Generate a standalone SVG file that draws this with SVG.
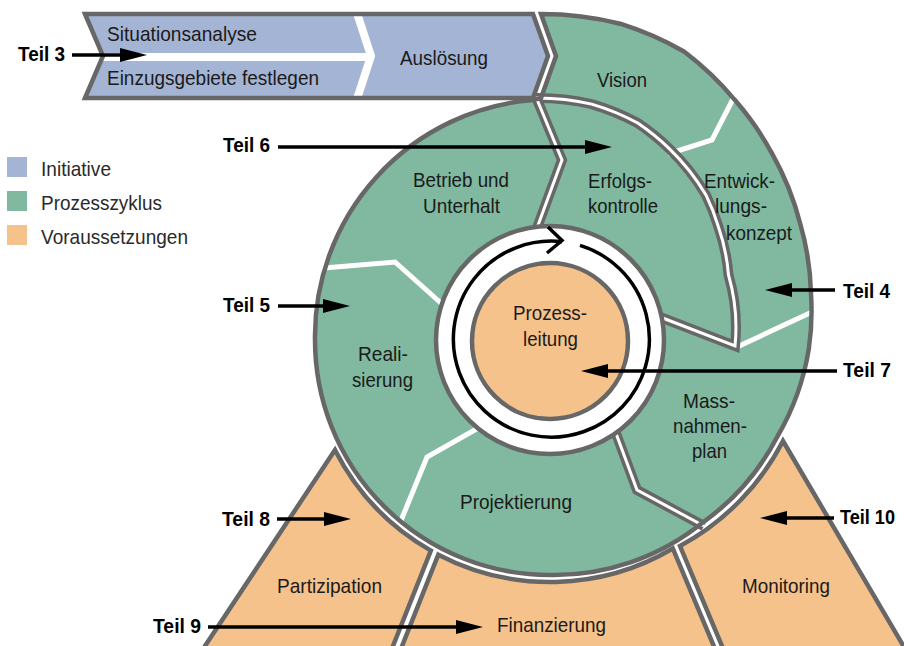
<svg xmlns="http://www.w3.org/2000/svg" width="904" height="646" viewBox="0 0 904 646">
<defs>
<style>
.lbl{font-family:"Liberation Sans Narrow","Liberation Sans",Arial,sans-serif;font-size:21px;fill:#1a1a1a}
.leg{font-family:"Liberation Sans Narrow","Liberation Sans",Arial,sans-serif;font-size:21px;fill:#2a2a2a}
.teil{font-family:"Liberation Sans Narrow","Liberation Sans",Arial,sans-serif;font-size:21px;font-weight:bold;fill:#000}
.mid{text-anchor:middle}
.edge{stroke:#676767;stroke-width:4.5;stroke-linejoin:miter;stroke-miterlimit:10}
.wsep{fill:none;stroke:#fff;stroke-width:5;stroke-linejoin:miter}
.dsepG{fill:none;stroke:#676767;stroke-width:10;stroke-linejoin:miter;stroke-miterlimit:10}
.dsepW{fill:none;stroke:#fff;stroke-width:3;stroke-linejoin:miter;stroke-miterlimit:10}
.arr{stroke:#000;stroke-width:3.3;fill:none}
</style>
<marker id="ah" markerUnits="userSpaceOnUse" markerWidth="28" markerHeight="16" refX="17" refY="7" orient="auto"><path d="M0,0 L27,7 L0,14 Z" fill="#000"/></marker>
</defs>
<rect width="904" height="646" fill="#fff"/>

<g id="voraussetzungen">
<g id="partizipation">
<path class="edge" fill="#F6C28B" d="M335 450 A242 242 0 0 0 430.9 550.6 L390.6 652 L201 652 Z"/>
<text class="lbl" x="277" y="593" textLength="105" lengthAdjust="spacingAndGlyphs">Partizipation</text>
</g>
<g id="finanzierung">
<path class="edge" fill="#F6C28B" d="M438.3 554.7 A242 242 0 0 0 672.8 548.5 L716.3 652 L399.7 652 Z"/>
<text class="lbl" x="497" y="632" textLength="109" lengthAdjust="spacingAndGlyphs">Finanzierung</text>
</g>
<g id="monitoring">
<path class="edge" fill="#F6C28B" d="M783 441 L907 652 L724.5 652 L680 546 A246 246 0 0 0 740.7 500 A251 251 0 0 0 783 441 Z"/>
<text class="lbl" x="742" y="593" textLength="88" lengthAdjust="spacingAndGlyphs">Monitoring</text>
</g>
</g>

<g id="prozesszyklus">
<path id="zyklus-fill" fill="#80B9A0" d="M541 14 A325 325 0 0 1 620.1 23.7 A321 321 0 0 1 684.4 51.8 A310 310 0 0 1 734.5 99.6 A296 296 0 0 1 772.1 153.6 A283 283 0 0 1 800.1 223.4 A270 270 0 0 1 811 294 A262 262 0 0 1 808.8 349 A253 253 0 0 1 777.4 436.5 A242 242 0 0 1 703 522.3 A236 236 0 0 1 550 575 A235 235 0 0 1 315 340 A237 237 0 0 1 533 100 L541 98 L556 56 Z"/>
<path class="wsep" d="M733 99 L712 140 L668 154"/>
<path class="wsep" d="M737 347 L812 312"/>
<path class="wsep" d="M324 268 L395 262 L442 304"/>
<path class="wsep" d="M480 427 L427 457 L400 523"/>
<path class="dsepG" d="M536 97 L562 160 L537 228"/>
<path class="dsepG" d="M536 98 A241 241 0 0 1 591.6 104.1 A237 237 0 0 1 637.7 123 A230 230 0 0 1 669.5 148.8 A219 219 0 0 1 705.8 194.7 A208 208 0 0 1 718.3 226.5 A196 196 0 0 1 728.5 275 A186 186 0 0 1 735 346 L660 317"/>
<path class="dsepG" d="M614 428 L637 490 L704 526"/>
<path class="dsepW" d="M536 97 L562 160 L537 228"/>
<path class="dsepW" d="M536 98 A241 241 0 0 1 591.6 104.1 A237 237 0 0 1 637.7 123 A230 230 0 0 1 669.5 148.8 A219 219 0 0 1 705.8 194.7 A208 208 0 0 1 718.3 226.5 A196 196 0 0 1 728.5 275 A186 186 0 0 1 735 346 L660 317"/>
<path class="dsepW" d="M614 428 L637 490 L704 526"/>
<path class="edge" fill="none" d="M541 14 A325 325 0 0 1 620.1 23.7 A321 321 0 0 1 684.4 51.8 A310 310 0 0 1 734.5 99.6 A296 296 0 0 1 772.1 153.6 A283 283 0 0 1 800.1 223.4 A270 270 0 0 1 811 294 A262 262 0 0 1 808.8 349 A253 253 0 0 1 777.4 436.5 A242 242 0 0 1 703 522.3 A236 236 0 0 1 550 575 A235 235 0 0 1 315 340 A237 237 0 0 1 533 100 L541 98 L556 56 Z"/>
</g>

<g id="initiative">
<path fill="#A4B4D4" d="M85 14 L533 14 L548 56 L533 98 L85 98 L103 56 Z"/>
<line x1="100" y1="57" x2="368" y2="57" stroke="#fff" stroke-width="8"/>
<polyline points="356,10 371,56 356,102" fill="none" stroke="#fff" stroke-width="8"/>
<path class="edge" fill="none" d="M85 14 L533 14 L548 56 L533 98 L85 98 L103 56 Z"/>
</g>

<g id="prozessleitung">
<circle cx="550" cy="340" r="114" fill="#fff" class="edge"/>
<circle cx="550" cy="341" r="78" fill="#F6C28B" class="edge"/>
<path d="M580 245.4 A98 98 0 1 1 562 241.7" fill="none" stroke="#000" stroke-width="3.5"/>
<polyline points="548,227 562,240.5 547,253" fill="none" stroke="#000" stroke-width="3.5"/>
<text class="lbl" x="513" y="320" textLength="74" lengthAdjust="spacingAndGlyphs">Prozess-</text>
<text class="lbl" x="523" y="346" textLength="55" lengthAdjust="spacingAndGlyphs">leitung</text>
</g>

<g id="situationsanalyse"><text class="lbl" x="107" y="41" textLength="150" lengthAdjust="spacingAndGlyphs">Situationsanalyse</text></g>
<g id="einzugsgebiete"><text class="lbl" x="107" y="85" textLength="212" lengthAdjust="spacingAndGlyphs">Einzugsgebiete festlegen</text></g>
<g id="ausloesung"><text class="lbl" x="400" y="65" textLength="88" lengthAdjust="spacingAndGlyphs">Auslösung</text></g>
<g id="vision"><text class="lbl" x="597" y="87" textLength="50" lengthAdjust="spacingAndGlyphs">Vision</text></g>
<g id="entwicklungskonzept">
<text class="lbl" x="704" y="188" textLength="71" lengthAdjust="spacingAndGlyphs">Entwick-</text>
<text class="lbl" x="715" y="213" textLength="52" lengthAdjust="spacingAndGlyphs">lungs-</text>
<text class="lbl" x="726" y="240" textLength="66" lengthAdjust="spacingAndGlyphs">konzept</text>
</g>
<g id="massnahmenplan">
<text class="lbl" x="683" y="408" textLength="52" lengthAdjust="spacingAndGlyphs">Mass-</text>
<text class="lbl" x="673" y="433" textLength="74" lengthAdjust="spacingAndGlyphs">nahmen-</text>
<text class="lbl" x="692" y="458" textLength="35" lengthAdjust="spacingAndGlyphs">plan</text>
</g>
<g id="projektierung"><text class="lbl" x="460" y="509" textLength="112" lengthAdjust="spacingAndGlyphs">Projektierung</text></g>
<g id="realisierung">
<text class="lbl" x="358" y="361" textLength="50" lengthAdjust="spacingAndGlyphs">Reali-</text>
<text class="lbl" x="352" y="387" textLength="61" lengthAdjust="spacingAndGlyphs">sierung</text>
</g>
<g id="betrieb">
<text class="lbl" x="413" y="187" textLength="96" lengthAdjust="spacingAndGlyphs">Betrieb und</text>
<text class="lbl" x="423" y="213" textLength="77" lengthAdjust="spacingAndGlyphs">Unterhalt</text>
</g>
<g id="erfolgskontrolle">
<text class="lbl" x="588" y="188" textLength="64" lengthAdjust="spacingAndGlyphs">Erfolgs-</text>
<text class="lbl" x="588" y="213" textLength="70" lengthAdjust="spacingAndGlyphs">kontrolle</text>
</g>

<g id="connectors">
<line class="arr" x1="72" y1="55" x2="137" y2="55" marker-end="url(#ah)"/>
<line class="arr" x1="278" y1="147" x2="602" y2="147" marker-end="url(#ah)"/>
<line class="arr" x1="278" y1="306" x2="340" y2="306" marker-end="url(#ah)"/>
<line class="arr" x1="835" y1="290" x2="775" y2="290" marker-end="url(#ah)"/>
<line class="arr" x1="837" y1="371" x2="591" y2="371" marker-end="url(#ah)"/>
<line class="arr" x1="277" y1="519" x2="341" y2="519" marker-end="url(#ah)"/>
<line class="arr" x1="208" y1="627" x2="473" y2="627" marker-end="url(#ah)"/>
<line class="arr" x1="834" y1="518" x2="770" y2="518" marker-end="url(#ah)"/>
</g>

<g id="teil-labels">
<text class="teil" x="18" y="61" textLength="47" lengthAdjust="spacingAndGlyphs">Teil 3</text>
<text class="teil" x="223" y="152" textLength="47" lengthAdjust="spacingAndGlyphs">Teil 6</text>
<text class="teil" x="223" y="312" textLength="47" lengthAdjust="spacingAndGlyphs">Teil 5</text>
<text class="teil" x="843" y="298" textLength="47" lengthAdjust="spacingAndGlyphs">Teil 4</text>
<text class="teil" x="843" y="377" textLength="48" lengthAdjust="spacingAndGlyphs">Teil 7</text>
<text class="teil" x="222" y="526" textLength="48" lengthAdjust="spacingAndGlyphs">Teil 8</text>
<text class="teil" x="153" y="633" textLength="48" lengthAdjust="spacingAndGlyphs">Teil 9</text>
<text class="teil" x="840" y="524" textLength="55" lengthAdjust="spacingAndGlyphs">Teil 10</text>
</g>

<g id="legende">
<rect x="7" y="157" width="20" height="20" fill="#A4B4D4"/>
<rect x="7" y="191" width="20" height="20" fill="#80B9A0"/>
<rect x="7" y="225" width="20" height="20" fill="#F6C28B"/>
<text class="leg" x="41" y="176" textLength="70" lengthAdjust="spacingAndGlyphs">Initiative</text>
<text class="leg" x="41" y="210" textLength="121" lengthAdjust="spacingAndGlyphs">Prozesszyklus</text>
<text class="leg" x="41" y="244" textLength="147" lengthAdjust="spacingAndGlyphs">Voraussetzungen</text>
</g>
</svg>
